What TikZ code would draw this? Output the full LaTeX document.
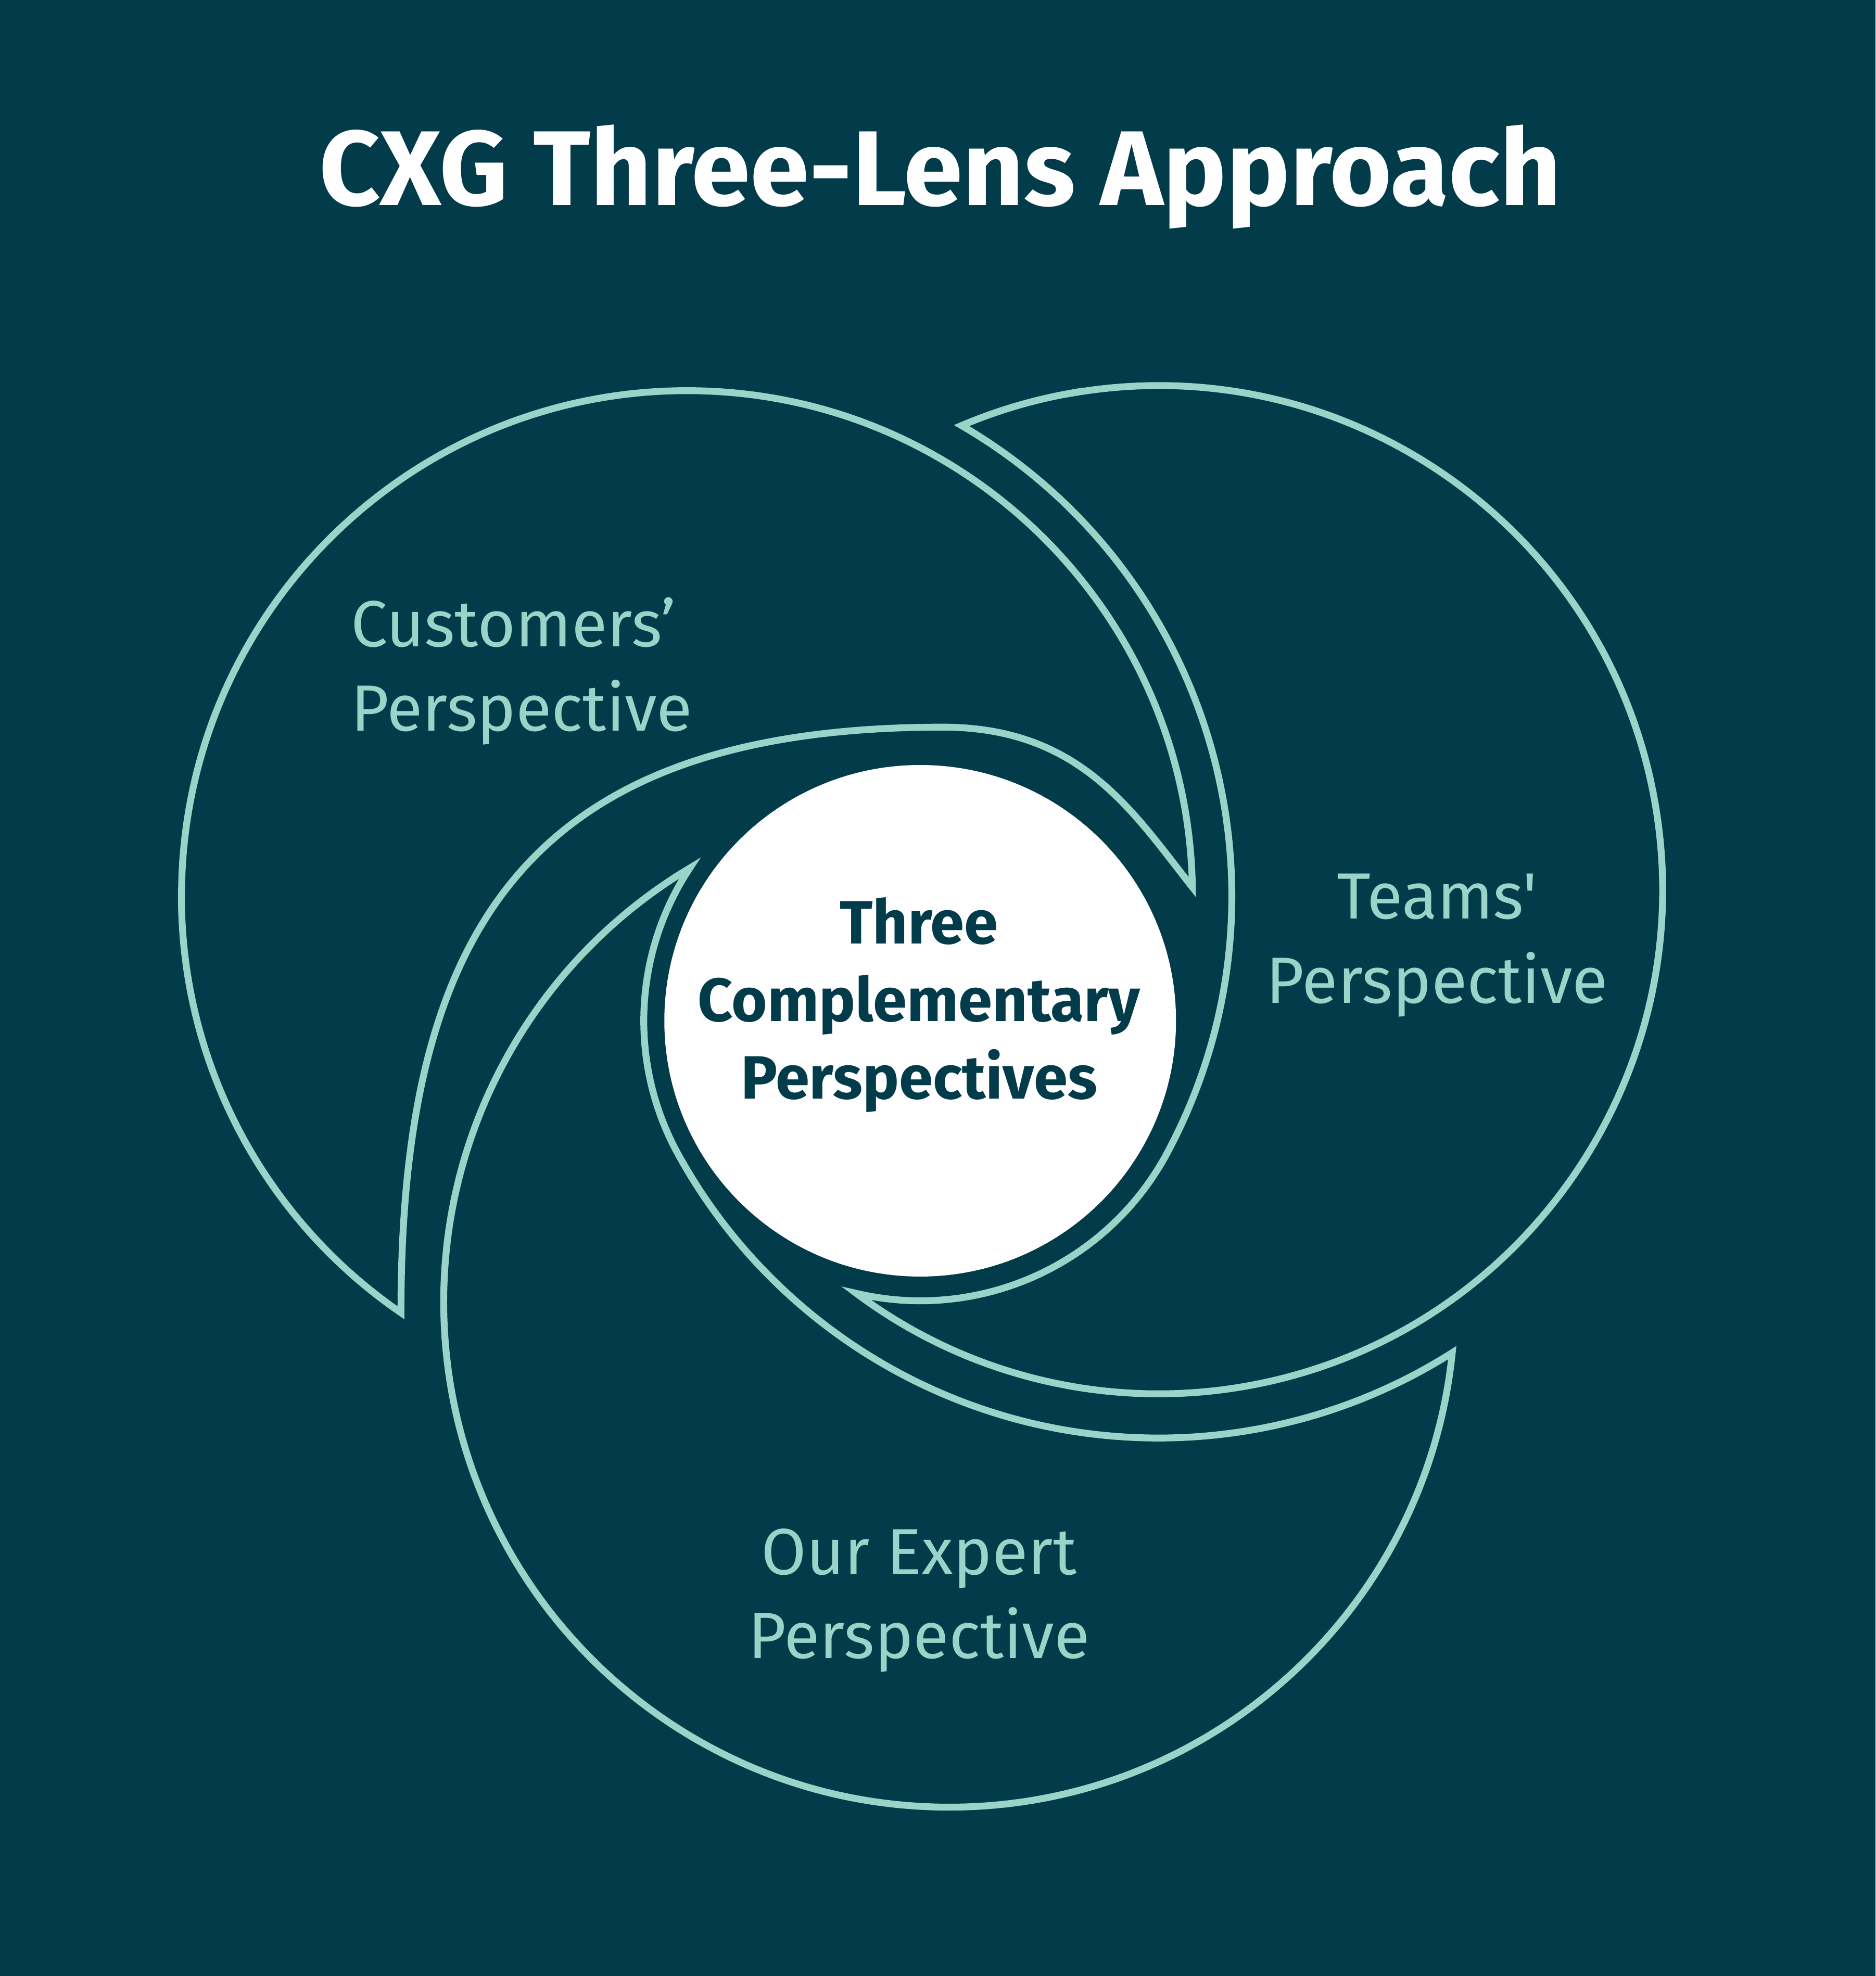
\documentclass[tikz,border=0pt]{standalone}
\usepackage{fontspec}
\setmainfont{Fira Sans}[Ligatures=TeXOff]
\definecolor{deepteal}{HTML}{023B4A}
\definecolor{mint}{HTML}{9AD4C9}

\begin{document}
\begin{tikzpicture}[x=0.02cm, y=0.02cm]
    % Define styles
    \tikzstyle{lens} = [draw=mint, line width=3.1pt, miter limit=20]
    \tikzstyle{lenslabel} = [text=mint, font=\fontsize{29.5}{38}\selectfont, align=center, anchor=base, inner sep=0pt]
    \tikzstyle{hub} = [circle, fill=white, minimum size=8.12cm, inner sep=0pt]
    \tikzstyle{hubtext} = [text=deepteal, font=\bfseries\fontsize{27.6}{35}\selectfont, align=center, anchor=base, inner sep=0pt]
    \tikzstyle{headline} = [text=white, font=\bfseries\fontsize{48}{56}\selectfont, anchor=base, inner sep=0pt]

    % Background
    \fill[deepteal] (0,0) rectangle (1488,-1568);

    % Title
    \node[headline] (headline) at (746,-163) {CXG Three-Lens Approach};

    % Lens start points and tips
    \coordinate (start1) at (144,-711);
    \coordinate (tip1a) at (318.1,-1041.7);
    \coordinate (top1) at (748,-577);
    \coordinate (start2) at (849.5,-312.1);
    \coordinate (start3) at (753,-1434);

    % Customers lens
    \draw[lens] (start1) arc[start angle=180, end angle=1, radius=401]
        .. controls (899.4,-645.5) and (858,-577) .. (top1)
        .. controls (420,-577) and (318.1,-736.7) .. (tip1a)
        arc[start angle=235.55, end angle=180, radius=401] -- cycle;

    % Teams lens
    \draw[lens] (start2) arc[start angle=100, end angle=-126.8, radius=400]
        arc[start angle=256.8, end angle=331.8, radius=222.2]
        arc[start angle=-28.2, end angle=59.75, radius=432]
        arc[start angle=113, end angle=100, radius=400] -- cycle;

    % Expert lens
    \draw[lens] (start3) arc[start angle=-90, end angle=-239.13, radius=401]
        arc[start angle=146.45, end angle=208.8, radius=219.3]
        arc[start angle=208.8, end angle=302.4, radius=435]
        arc[start angle=-5.78, end angle=-90, radius=401] -- cycle;

    % Centre
    \node[hub] (hub) at (730,-810) {};
    \node[hubtext] (hubtext) at (729,-872) {Three\\Complementary\\Perspectives};

    % Labels
    \node[lenslabel, align=left, anchor=base west] (label1) at (278,-580) {Customers’\\Perspective};
    \node[lenslabel] (label2) at (1140,-796) {Teams'\\Perspective};
    \node[lenslabel] (label3) at (729,-1316) {Our Expert\\Perspective};
\end{tikzpicture}
\end{document}
